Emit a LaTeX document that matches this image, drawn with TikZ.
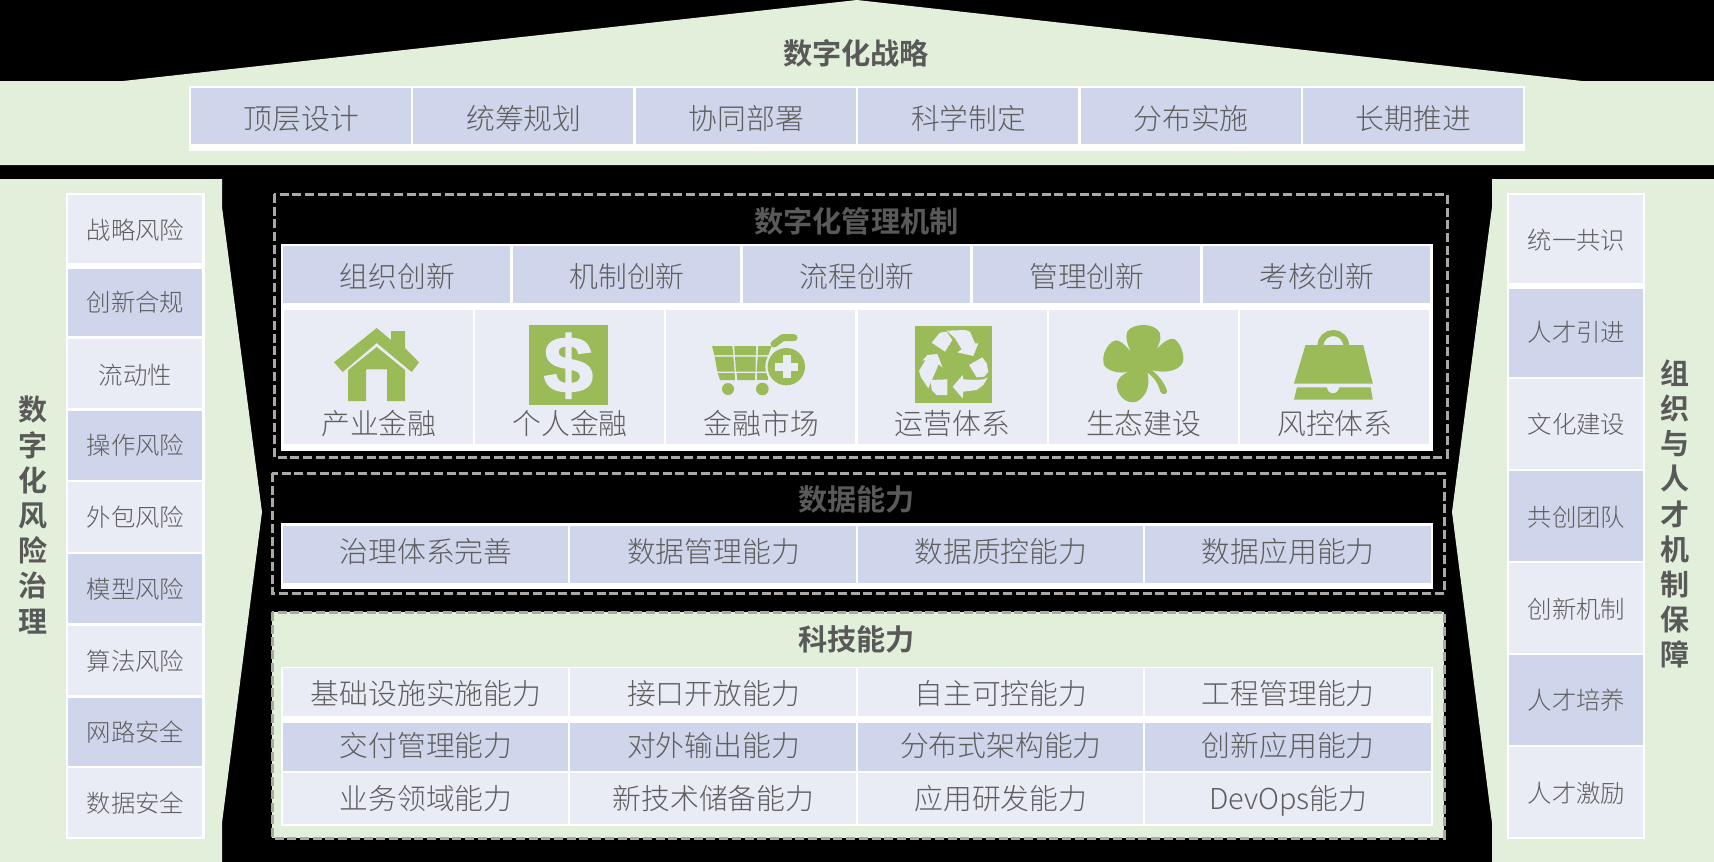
\documentclass[tikz,border=0pt]{standalone}
\usepackage{fontspec}
\setmainfont{Noto Sans CJK SC Light}[BoldFont={Noto Sans CJK SC Bold}]
\newfontfamily\dollarfont{Liberation Sans}[BoldFeatures={FakeBold=1.6}]
\definecolor{bgreen}{HTML}{E2EFDA}
\definecolor{cdark}{HTML}{CFD5EA}
\definecolor{clight}{HTML}{E9EBF5}
\definecolor{igreen}{HTML}{9BBB59}
\definecolor{bodygray}{HTML}{5E5E5E}
\definecolor{titlegray}{HTML}{595959}
\definecolor{dashgray}{HTML}{ABA8A6}
\newcounter{cellno}
\tikzset{
  txt/.style={text=bodygray,inner sep=0pt,text height=25pt,text depth=3.5pt,font=\fontsize{28.8}{34}\selectfont},
  stxt/.style={text=bodygray,inner sep=0pt,text height=21.5pt,text depth=3pt,font=\fontsize{24.4}{30}\selectfont},
  ttl/.style={text=titlegray,inner sep=0pt,text height=25.5pt,text depth=3.5pt,font=\fontsize{29.2}{35}\selectfont\bfseries},
  vttl/.style={text=titlegray,inner sep=0pt,align=center,font=\fontsize{29}{35.2}\selectfont\bfseries},
  dashbox/.style={draw=dashgray,line width=3pt,dash pattern=on 9pt off 3.7pt},
  icon/.style={fill=igreen},
  cut/.style={fill=clight}
}
\newcommand\cellbox[8][txt]{%
  \fill[#6] (#2,#3) rectangle (#4,#5);
  \stepcounter{cellno}%
  \node[#1,name=cell\arabic{cellno}] at ({(#2+#4)/2+0.5},#7) {#8};
}
\begin{document}
\begin{tikzpicture}[x=1pt,y=-1pt]
\useasboundingbox (0,0) rectangle (1714,862);
\fill[black] (0,0) rectangle (1714,862);
% roof band
\fill[bgreen] (0,81) -- (123,81) -- (857,0) -- (1582,81) -- (1714,81) -- (1714,165) -- (0,165) -- cycle;
\node[ttl,name=roofttl] at (856,53) {数字化战略};
\fill[white] (189,86) rectangle (1525,151);
\foreach \t [count=\i from 0] in {顶层设计,统筹规划,协同部署,科学制定,分布实施,长期推进}{
  \pgfmathsetmacro\xa{191+222.42*\i}
  \pgfmathsetmacro\xb{\xa+219.9}
  \cellbox{\xa}{88}{\xb}{144}{cdark}{119}{\t}
}
% side panels
\fill[bgreen] (0,179) -- (222,179) -- (222,207) -- (262,512) -- (222,823) -- (222,862) -- (0,862) -- cycle;
\fill[bgreen] (1714,179) -- (1492,179) -- (1492,207) -- (1452,512) -- (1492,823) -- (1492,862) -- (1714,862) -- cycle;
\node[vttl,name=leftttl] at (33,515) {数\\字\\化\\风\\险\\治\\理};
\node[vttl,name=rightttl] at (1675,514) {组\\织\\与\\人\\才\\机\\制\\保\\障};
% left column
\fill[white] (66,193) rectangle (204.5,839);
\cellbox[stxt]{68}{195}{202}{263}{clight}{230}{战略风险}
\cellbox[stxt]{68}{269}{202}{336}{cdark}{302.5}{创新合规}
\cellbox[stxt]{68}{339}{202}{408}{clight}{375}{流动性}
\cellbox[stxt]{68}{411}{202}{480}{cdark}{445.5}{操作风险}
\cellbox[stxt]{68}{482}{202}{552}{clight}{517.5}{外包风险}
\cellbox[stxt]{68}{554}{202}{623}{cdark}{589}{模型风险}
\cellbox[stxt]{68}{626}{202}{695}{clight}{661.5}{算法风险}
\cellbox[stxt]{68}{698}{202}{766}{cdark}{732.5}{网路安全}
\cellbox[stxt]{68}{768}{202}{837}{clight}{803.5}{数据安全}
% right column
\fill[white] (1507,193) rectangle (1645,839);
\cellbox[stxt]{1509}{195}{1643}{283}{clight}{240}{统一共识}
\cellbox[stxt]{1509}{289}{1643}{377}{cdark}{332.5}{人才引进}
\cellbox[stxt]{1509}{379}{1643}{469}{clight}{424.5}{文化建设}
\cellbox[stxt]{1509}{471}{1643}{561}{cdark}{517}{共创团队}
\cellbox[stxt]{1509}{563}{1643}{653}{clight}{609}{创新机制}
\cellbox[stxt]{1509}{655}{1643}{745}{cdark}{700.5}{人才培养}
\cellbox[stxt]{1509}{747}{1643}{837}{clight}{793}{人才激励}
% management box
\draw[dashbox] (274,194) rectangle (1447,457);
\node[ttl,name=mgmtttl] at (856.5,221) {数字化管理机制};
\fill[white] (281,244) rectangle (1433,451);
\foreach \t [count=\i from 0] in {组织创新,机制创新,流程创新,管理创新,考核创新}{
  \pgfmathsetmacro\xa{283+229.9*\i}
  \pgfmathsetmacro\xb{\xa+227.4}
  \cellbox{\xa}{246}{\xb}{303}{cdark}{276.5}{\t}
}
\foreach \t [count=\i from 0] in {产业金融,个人金融,金融市场,运营体系,生态建设,风控体系}{
  \pgfmathsetmacro\xa{284+191.2*\i}
  \pgfmathsetmacro\xb{\xa+188.9}
  \cellbox{\xa}{310}{\xb}{444}{clight}{423.5}{\t}
}
% house
\fill[icon] (376.7,328) -- (391,340) -- (391,331) -- (405,331) -- (405,348) -- (419,362.3) -- (411.7,372) -- (376.7,343) -- (342.7,372) -- (334,362.3) -- cycle;
\fill[icon] (376.7,347) -- (405,370) -- (405,401) -- (387,401) -- (387,369.3) -- (366,369.3) -- (366,401) -- (348,401) -- (348,370) -- cycle;
% dollar
\fill[icon] (529,325) rectangle (608,405);
\node[name=dollar,text=clight,inner sep=0pt,xscale=1.12,font=\dollarfont\bfseries\fontsize{80}{80}\selectfont] at (568.3,365.7) {\$};
% cart
\begin{scope}[shift={(700,320)},xscale=1/3,yscale=1/3]
\fill[icon] (36,78) -- (97,78) -- (100,105) -- (43,105) -- cycle;
\fill[icon] (103,78) -- (168,78) -- (168,105) -- (104,105) -- cycle;
\fill[icon] (175,78) -- (215,78) -- (205,105) -- (173,105) -- cycle;
\fill[icon] (44,110) -- (100,110) -- (104,155) -- (52,155) -- cycle;
\fill[icon] (105,110) -- (167,110) -- (167,155) -- (108,155) -- cycle;
\fill[icon] (173,110) -- (212,110) -- (205,155) -- (170,155) -- cycle;
\fill[icon] (53,159) -- (104,159) -- (105,180) -- (60,180) -- cycle;
\fill[icon] (110,159) -- (165,159) -- (165,180) -- (112,180) -- cycle;
\fill[icon] (170,159) -- (205,159) -- (205,180) -- (170,180) -- cycle;
\draw[igreen,line width=7pt,line cap=round,line join=round] (222,72) -- (248,53) -- (282,53);
\fill[icon] (84,207) circle (18);
\fill[icon] (187,207) circle (19);
\fill[cut] (259,140) circle (63);
\fill[icon] (259,140) circle (56);
\fill[cut] (248,105) rectangle (272,173);
\fill[cut] (225,128) rectangle (293,152);
\end{scope}
% recycle
\begin{scope}[shift={(905,320)},xscale=1/3,yscale=1/3]
\fill[icon] (30,18) rectangle (261,249);
\fill[cut] (80,68) -- (105,38) -- (125,35) -- (142,60) -- (120,95) -- cycle;
\fill[cut] (125,32) -- (180,30) -- (195,35) -- (210,70) -- (220,70) -- (205,108) -- (157,97) -- (170,88) -- (150,55) -- cycle;
\fill[cut] (192,135) -- (232,112) -- (245,130) -- (250,155) -- (238,170) -- (215,172) -- cycle;
\fill[cut] (248,173) -- (235,195) -- (215,210) -- (175,215) -- (173,235) -- (143,200) -- (173,165) -- (175,178) -- (215,180) -- (235,178) -- cycle;
\fill[cut] (77,180) -- (127,178) -- (127,225) -- (95,225) -- (80,210) -- cycle;
\fill[cut] (52,122) -- (67,105) -- (97,102) -- (113,143) -- (101,133) -- (70,205) -- (48,172) -- (42,152) -- (62,120) -- cycle;
\end{scope}
% clover
\begin{scope}[shift={(1090,320)},xscale=1/3,yscale=1/3]
\fill[icon] (125,100) .. controls (112,75) and (105,50) .. (112,35) .. controls (125,10) and (195,5) .. (210,40) .. controls (215,60) and (205,80) .. (195,92) .. controls (215,70) and (240,50) .. (255,58) .. controls (275,75) and (285,110) .. (278,128) .. controls (265,155) and (220,160) .. (185,150) .. controls (205,165) and (225,190) .. (231,213) .. controls (232,225) and (215,225) .. (211,215) .. controls (205,190) and (190,170) .. (172,158) .. controls (180,190) and (175,225) .. (140,245) .. controls (110,255) and (80,225) .. (80,195) .. controls (82,175) and (100,160) .. (118,155) .. controls (90,162) and (55,155) .. (42,135) .. controls (32,105) and (55,65) .. (78,61) .. controls (95,62) and (115,85) .. (125,100) -- cycle;
\end{scope}
% weight
\draw[igreen,line width=6pt] (1320.3,346) arc (180:360:13);
\fill[icon] (1305.5,345) -- (1363.2,345) -- (1372.8,383.7) -- (1293.9,383.7) -- cycle;
\fill[icon] (1297,387.3) -- (1327,387.3) arc (180:0:6) -- (1370.6,387.3) -- (1372.8,399.7) -- (1293.9,399.7) -- cycle;
% data box
\draw[dashbox] (272,473) rectangle (1444,593);
\node[ttl,name=datattl] at (856.5,499.5) {数据能力};
\fill[white] (281,523) rectangle (1433,589);
\foreach \t [count=\i from 0] in {治理体系完善,数据管理能力,数据质控能力,数据应用能力}{
  \pgfmathsetmacro\xa{283+287.4*\i}
  \pgfmathsetmacro\xb{\xa+285.3}
  \cellbox{\xa}{526}{\xb}{583}{cdark}{552}{\t}
}
% tech box
\fill[bgreen] (272,612) rectangle (1444,838);
\draw[dashbox] (272,612) rectangle (1444,838);
\node[ttl,name=techttl] at (856.5,639.5) {科技能力};
\fill[white] (281,667) rectangle (1433,826);
\foreach \t [count=\i from 0] in {基础设施实施能力,接口开放能力,自主可控能力,工程管理能力}{
  \pgfmathsetmacro\xa{283+287.4*\i}
  \pgfmathsetmacro\xb{\xa+285.3}
  \cellbox{\xa}{668}{\xb}{716}{clight}{694}{\t}
}
\foreach \t [count=\i from 0] in {交付管理能力,对外输出能力,分布式架构能力,创新应用能力}{
  \pgfmathsetmacro\xa{283+287.4*\i}
  \pgfmathsetmacro\xb{\xa+285.3}
  \cellbox{\xa}{723}{\xb}{771}{cdark}{745.5}{\t}
}
\foreach \t [count=\i from 0] in {业务领域能力,新技术储备能力,应用研发能力,DevOps能力}{
  \pgfmathsetmacro\xa{283+287.4*\i}
  \pgfmathsetmacro\xb{\xa+285.3}
  \cellbox{\xa}{773}{\xb}{824}{clight}{799}{\t}
}
\end{tikzpicture}
\end{document}
